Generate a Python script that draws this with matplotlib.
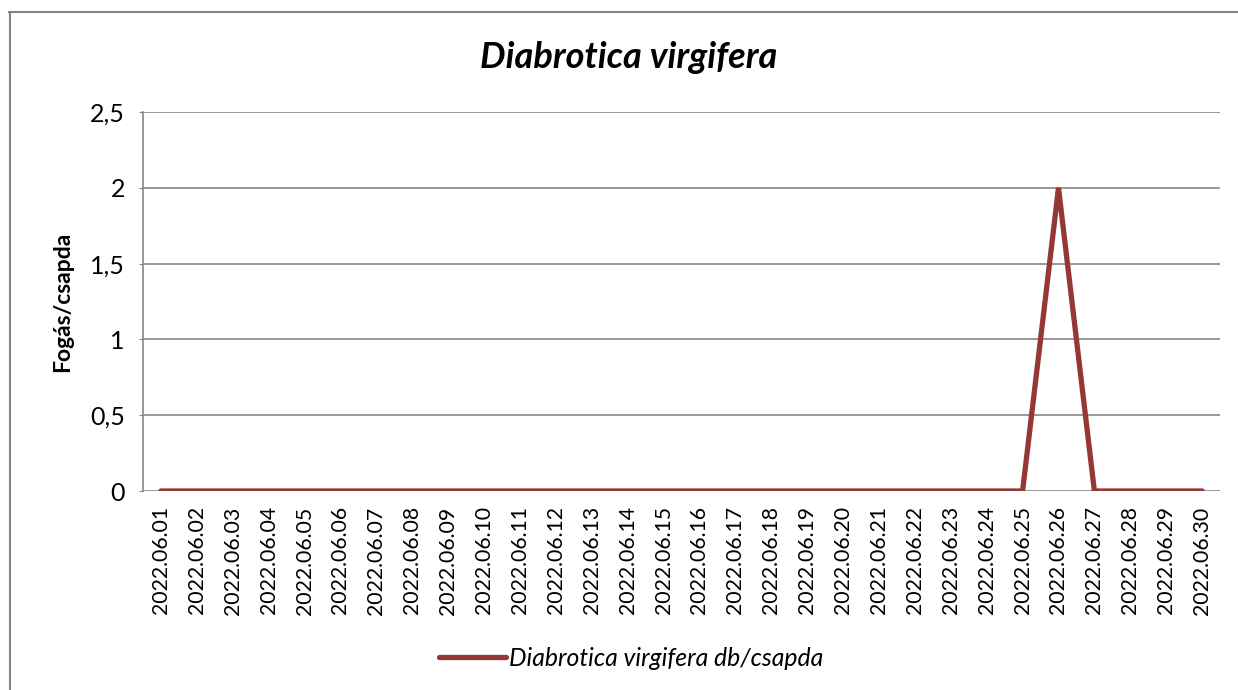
import matplotlib
matplotlib.use("Agg")
import matplotlib.pyplot as plt
from matplotlib.lines import Line2D
from matplotlib.ticker import FuncFormatter

plt.rcParams['font.family'] = ['Lato', 'DejaVu Sans']

# data
dates = ["2022.06.%02d" % d for d in range(1, 31)]
catch = [0, 0, 0, 0, 0, 0, 0, 0, 0, 0,
         0, 0, 0, 0, 0, 0, 0, 0, 0, 0,
         0, 0, 0, 0, 0, 2, 0, 0, 0, 0]
series_name = "Diabrotica virgifera db/csapda"
title = "Diabrotica virgifera"
ylabel = "Fogás/csapda"

line_color = "#953735"
grid_color = "#868686"

fig = plt.figure(figsize=(12.38, 6.9), dpi=100)
ax = fig.add_axes([0.1155, 0.2884, 0.87, 0.5493])

x = list(range(len(dates)))
ax.plot(x, catch, color=line_color, lw=3.8, solid_capstyle='round',
        solid_joinstyle='miter', zorder=3)

ax.set_xlim(-0.5, len(dates) - 0.5)
ax.set_ylim(0, 2.5)
ax.set_yticks([0, 0.5, 1, 1.5, 2, 2.5])
ax.yaxis.set_major_formatter(FuncFormatter(lambda v, p: ("%g" % v).replace('.', ',')))
ax.set_xticks(x)
ax.set_xticklabels(dates, rotation=90, fontsize=15.3)
ax.tick_params(axis='x', length=0, pad=11)
ax.tick_params(axis='y', length=3, color=grid_color, labelsize=18, pad=10)

ax.grid(axis='y', color=grid_color, lw=1.2)
ax.set_axisbelow(True)
for s in ['top', 'right', 'bottom']:
    ax.spines[s].set_visible(False)
ax.spines['left'].set_color(grid_color)
ax.spines['left'].set_linewidth(1.2)

ax.set_ylabel(ylabel, fontsize=16.5, fontweight='bold', labelpad=12)
fig.text(0.508, 0.917, title, fontsize=26, fontweight='bold', style='italic',
         ha='center', va='center')

handle = Line2D([], [], color=line_color, lw=3.8, solid_capstyle='round')
fig.legend(handles=[handle], labels=[series_name], loc='center',
           bbox_to_anchor=(0.51, 0.046), frameon=False,
           prop={'style': 'italic', 'size': 17.8}, handlelength=2.7,
           handletextpad=0.15)

# chart border (left and top edges visible)
fig.add_artist(Line2D([0.0083, 0.0083], [0, 0.9826], transform=fig.transFigure,
                      color=grid_color, lw=1.5))
fig.add_artist(Line2D([0.0075, 1.0], [0.9826, 0.9826], transform=fig.transFigure,
                      color=grid_color, lw=1.5))

fig.savefig("out.png", dpi=100)
